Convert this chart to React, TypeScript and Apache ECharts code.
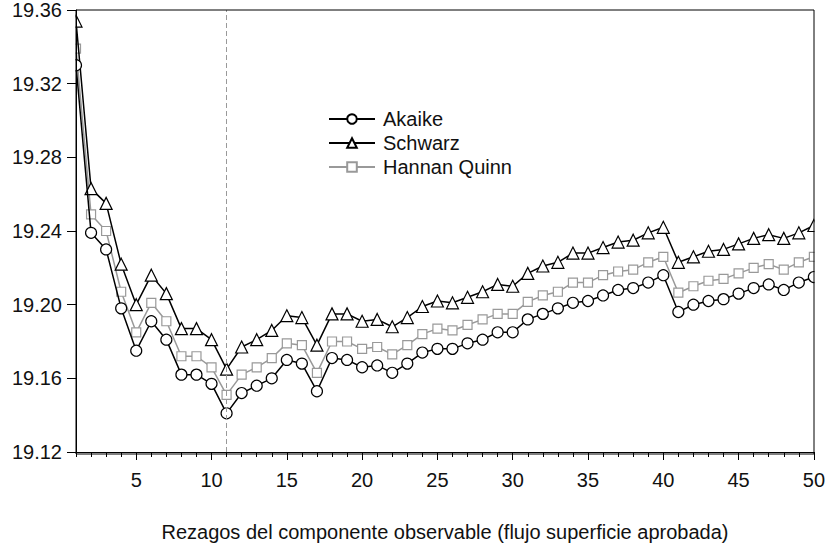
import React, { useEffect, useRef } from "react";
import * as echarts from "echarts";

const lags = Array.from({ length: 50 }, (_, i) => String(i + 1));

const akaike = [
  19.330, 19.239, 19.230, 19.198, 19.175, 19.191, 19.181, 19.162, 19.162, 19.157,
  19.141, 19.152, 19.156, 19.160, 19.170, 19.168, 19.153, 19.171, 19.170, 19.166,
  19.167, 19.163, 19.168, 19.174, 19.176, 19.176, 19.179, 19.181, 19.185, 19.185,
  19.192, 19.195, 19.198, 19.201, 19.202, 19.205, 19.208, 19.209, 19.212, 19.216,
  19.196, 19.200, 19.202, 19.203, 19.206, 19.209, 19.211, 19.208, 19.212, 19.215,
];

const schwarz = [
  19.354, 19.263, 19.255, 19.222, 19.200, 19.216, 19.206, 19.187, 19.187, 19.181,
  19.165, 19.177, 19.181, 19.186, 19.194, 19.193, 19.178, 19.195, 19.195, 19.191,
  19.192, 19.188, 19.193, 19.199, 19.202, 19.201, 19.204, 19.207, 19.211, 19.210,
  19.217, 19.221, 19.223, 19.228, 19.228, 19.231, 19.234, 19.235, 19.239, 19.242,
  19.223, 19.226, 19.229, 19.230, 19.233, 19.236, 19.238, 19.236, 19.239, 19.243,
];

const hannanQuinn = [
  19.339, 19.249, 19.240, 19.207, 19.185, 19.201, 19.191, 19.172, 19.172, 19.166,
  19.151, 19.162, 19.166, 19.171, 19.179, 19.178, 19.163, 19.180, 19.180, 19.176,
  19.177, 19.173, 19.178, 19.184, 19.187, 19.186, 19.189, 19.192, 19.195, 19.195,
  19.2015, 19.205, 19.207, 19.212, 19.212, 19.216, 19.218, 19.219, 19.223, 19.226,
  19.2065, 19.210, 19.213, 19.214, 19.217, 19.220, 19.222, 19.219, 19.223, 19.226,
];

const selectedLag = "11";
const yMin = 19.12;
const yMax = 19.36;
const yStep = 0.04;

const FONT = "'Liberation Sans', Arial, Helvetica, sans-serif";

export default function App() {
  const ref = useRef<HTMLDivElement>(null);

  useEffect(() => {
    if (!ref.current) return;
    const chart = echarts.init(ref.current, undefined, { renderer: "svg" });
    const isMajor = (i: number) => (i + 1) % 5 === 0;
    const W = 828;
    const H = 547;
    const gLeft = 76;
    const gRight = 14;
    const gTop = 10;
    const gBottom = 93;
    chart.setOption({
      animation: false,
      backgroundColor: "#fff",
      textStyle: { fontFamily: FONT },
      grid: {
        left: gLeft,
        right: gRight,
        top: gTop,
        bottom: gBottom,
        show: false,
      },
      graphic: [
        {
          type: "rect",
          silent: true,
          z: 50,
          shape: { x: 0, y: 0, width: gLeft - 0.5, height: H },
          style: { fill: "#fff" },
        },
        {
          type: "rect",
          silent: true,
          z: 50,
          shape: { x: W - gRight + 0.5, y: 0, width: gRight, height: H },
          style: { fill: "#fff" },
        },
        {
          type: "rect",
          silent: true,
          z: 50,
          shape: { x: 0, y: 0, width: W, height: gTop - 0.5 },
          style: { fill: "#fff" },
        },
        {
          type: "rect",
          silent: true,
          z: 60,
          shape: { x: gLeft, y: gTop, width: W - gLeft - gRight, height: H - gTop - gBottom },
          style: { fill: "none", stroke: "#000", lineWidth: 1 },
        },
      ],
      legend: {
        left: 323,
        top: 104,
        orient: "vertical",
        itemWidth: 46,
        itemHeight: 12,
        itemGap: 4,
        textStyle: { fontFamily: FONT, fontSize: 20, color: "#111", lineHeight: 20, padding: [0, 0, 0, 3] },
        data: ["Akaike", "Schwarz", "Hannan Quinn"],
      },
      xAxis: [
        {
          type: "category",
          data: lags,
          boundaryGap: false,
          z: 100,
          axisLine: { show: true, lineStyle: { color: "#000", width: 1 } },
          axisTick: { show: true, interval: 0, length: 5, lineStyle: { color: "#000" } },
          axisLabel: { show: false },
          splitLine: { show: false },
          name: "Rezagos del componente observable (flujo superficie aprobada)",
          nameLocation: "middle",
          nameGap: 70,
          nameTextStyle: { fontFamily: FONT, fontSize: 20, color: "#111" },
        },
        {
          type: "category",
          data: lags,
          boundaryGap: false,
          position: "bottom",
          z: 100,
          axisLine: { show: false },
          axisTick: {
            show: true,
            length: 8,
            interval: (i: number) => isMajor(i),
            lineStyle: { color: "#000" },
          },
          axisLabel: {
            show: true,
            interval: (i: number) => isMajor(i),
            margin: 18,
            fontFamily: FONT,
            fontSize: 20,
            color: "#111",
          },
          splitLine: { show: false },
        },
      ],
      yAxis: {
        type: "value",
        min: yMin,
        max: yMax,
        interval: yStep,
        z: 100,
        axisLine: { show: true, lineStyle: { color: "#000", width: 1 } },
        axisTick: { show: true, length: 9, lineStyle: { color: "#000" } },
        axisLabel: {
          margin: 14,
          fontFamily: FONT,
          fontSize: 20,
          color: "#111",
          formatter: (v: number) => v.toFixed(2),
        },
        splitLine: { show: false },
      },
      series: [
        {
          name: "Akaike",
          type: "line",
          data: akaike,
          symbol: "circle",
          symbolSize: 11,
          showAllSymbol: true,
          lineStyle: { color: "#000", width: 1.5 },
          itemStyle: { color: "#fff", borderColor: "#000", borderWidth: 1.2 },
          z: 4,
          markLine: {
            silent: true,
            symbol: ["none", "none"],
            label: { show: false },
            lineStyle: { color: "#999", type: [5, 3], width: 1 },
            data: [{ xAxis: selectedLag }],
          },
        },
        {
          name: "Schwarz",
          type: "line",
          data: schwarz,
          symbol: "triangle",
          symbolSize: 12,
          showAllSymbol: true,
          lineStyle: { color: "#000", width: 1.5 },
          itemStyle: { color: "#fff", borderColor: "#000", borderWidth: 1.2 },
          z: 3,
        },
        {
          name: "Hannan Quinn",
          type: "line",
          data: hannanQuinn,
          symbol: "rect",
          symbolSize: 9,
          showAllSymbol: true,
          lineStyle: { color: "#999", width: 1.5 },
          itemStyle: { color: "#fff", borderColor: "#999", borderWidth: 1.2 },
          z: 2,
        },
      ],
    });
    return () => chart.dispose();
  }, []);

  return (
    <div
      ref={ref}
      style={{ position: "fixed", left: 0, top: 0, width: 828, height: 547, background: "#fff" }}
    />
  );
}
